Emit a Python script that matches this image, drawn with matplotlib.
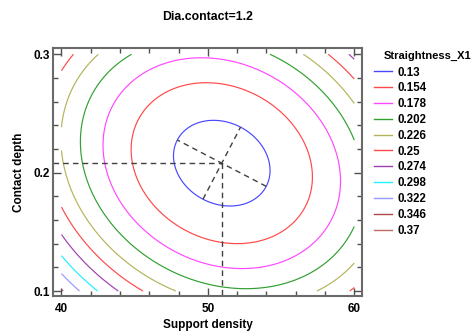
import numpy as np
import matplotlib
matplotlib.use("Agg")
import matplotlib.pyplot as plt
from matplotlib.lines import Line2D

plt.rcParams['font.family'] = ['Liberation Sans', 'DejaVu Sans']
plt.rcParams['font.weight'] = 'bold'

# fitted second order surface (coded units: u=(x-50)/10, v=(y-0.2)/0.1)
x_center = 50.95
y_center = 0.208
f_min = 0.1205
coef_uu = 0.090
coef_vv = 0.0747
coef_uv = 0.028

x_range = [40, 60]
y_range = [0.1, 0.3]
levels = [0.13, 0.154, 0.178, 0.202, 0.226, 0.25, 0.274, 0.298, 0.322, 0.346, 0.37]
level_labels = ['0.13', '0.154', '0.178', '0.202', '0.226', '0.25', '0.274',
                '0.298', '0.322', '0.346', '0.37']
colors = ['#4848ff', '#ff4848', '#ff48ff', '#30a030', '#b4b45a', '#ff4848',
          '#a040b0', '#20f0ff', '#9898ff', '#b04848', '#c06a6a']
x_ticks = [40, 50, 60]
y_ticks = [0.1, 0.2, 0.3]


def surface(x, y):
    du = (x - x_center) / 10.0
    dv = (y - y_center) / 0.1
    return f_min + coef_uu * du**2 + coef_vv * dv**2 + coef_uv * du * dv


fig = plt.figure(figsize=(4.76, 3.36), dpi=100)
ax = fig.add_axes([53/476, 1 - 296/336, 309/476, 248/336])

xs = np.linspace(x_range[0], x_range[1], 300)
ys = np.linspace(y_range[0], y_range[1], 300)
X, Y = np.meshgrid(xs, ys)
Z = surface(X, Y)
ax.contour(X, Y, Z, levels=levels, colors=colors, linewidths=0.85)

x_lo, x_hi = 39.42, 60.53
y_lo, y_hi = 0.0958, 0.3053
ax.set_xlim(x_lo, x_hi)
ax.set_ylim(y_lo, y_hi)

# dashed guides: to the optimum and along the principal axes
dash = dict(color='#404040', lw=1.0, ls=(0, (4, 3)))
ax.plot([x_lo, x_center], [y_center, y_center], **dash)
ax.plot([x_center, x_center], [y_center, y_lo], **dash)

T = ax.transData
kx = (T.transform((1, 0)) - T.transform((0, 0)))[0]
ky = (T.transform((0, 1)) - T.transform((0, 0)))[1]
M = np.array([[coef_uu, coef_uv / 2], [coef_uv / 2, coef_vv]])
S = np.diag([1 / (10 * kx), 1 / (0.1 * ky)])
Mp = S @ M @ S
w, vecs = np.linalg.eigh(Mp)
k = levels[0] - f_min
for i in range(2):
    r = np.sqrt(k / w[i])
    e = vecs[:, i]
    dx, dy = r * e[0] / kx, r * e[1] / ky
    ax.plot([x_center - dx, x_center + dx], [y_center - dy, y_center + dy], **dash)

ax.set_xticks(x_ticks)
ax.set_yticks(y_ticks)
ax.set_xticklabels([str(t) for t in x_ticks])
ax.set_yticklabels([str(t) for t in y_ticks])
ax.set_xticks(np.arange(40, 61, 2), minor=True)
ax.set_yticks(np.arange(0.1, 0.301, 0.02), minor=True)
ax.tick_params(which='both', direction='in', top=True, right=True,
               color='#505050', labelsize=8.5)
ax.tick_params(which='major', length=6, width=1)
ax.tick_params(which='minor', length=3.5, width=1)
ax.tick_params(axis='x', pad=5)
ax.tick_params(axis='y', pad=2)
for s in ax.spines.values():
    s.set_color('#6a6a6a')
    s.set_linewidth(1.5)

ax.set_xlabel('Support density', fontsize=8.5, fontweight='bold', labelpad=3)
ax.set_ylabel('Contact depth', fontsize=8.5, fontweight='bold', labelpad=6)
fig.text(208/476, 1 - 17/336, 'Dia.contact=1.2', ha='center', va='center',
         fontsize=8.8, fontweight='bold')

fig.text(384/476, 1 - 56/336, 'Straightness_X1', ha='left', va='center',
         fontsize=8, fontweight='bold')
handles = [Line2D([], [], color=c, lw=1.0) for c in colors]
fig.legend(handles, level_labels, loc='upper left',
           bbox_to_anchor=(374/476, 1 - 66.5/336), frameon=False,
           prop={'size': 8.3, 'weight': 'bold'}, handlelength=1.6,
           handletextpad=0.4, labelspacing=0.33, borderaxespad=0,
           borderpad=0)

fig.savefig('out.png', dpi=100)
